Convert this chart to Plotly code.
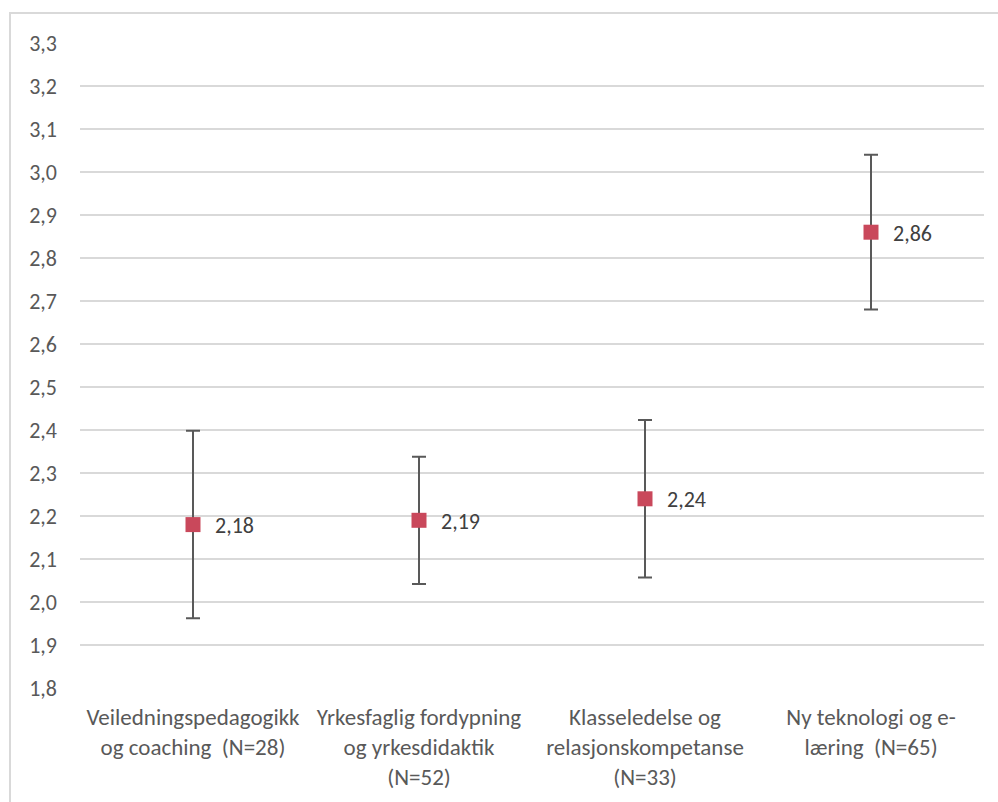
import plotly.graph_objects as go

# Course groups with number of respondents
categories = [
    "Veiledningspedagogikk<br>og coaching  (N=28)",
    "Yrkesfaglig fordypning<br>og yrkesdidaktik<br>(N=52)",
    "Klasseledelse og<br>relasjonskompetanse<br>(N=33)",
    "Ny teknologi og e-<br>læring  (N=65)",
]
# Mean scores and 95 % confidence half-widths
means = [2.18, 2.19, 2.24, 2.86]
ci_half = [0.218, 0.148, 0.183, 0.18]

y_ticks = [round(1.8 + 0.1 * i, 1) for i in range(16)]

W, H = 998, 802
ML, MR, MT, MB = 80, 14, 43, 114
FONT = "Carlito, Calibri, Lato, sans-serif"
FS = 22

fig = go.Figure()
fig.add_trace(go.Scatter(
    x=categories,
    y=means,
    mode="markers",
    marker=dict(symbol="square", size=15, color="#C9485B"),
    error_y=dict(type="data", array=ci_half, visible=True,
                 color="#595959", thickness=2, width=7),
    showlegend=False,
))

# Value labels to the right of each marker
for c, v in zip(categories, means):
    fig.add_annotation(
        x=c, y=v, text=f"{v:.2f}".replace(".", ","),
        showarrow=False, xanchor="left", yanchor="middle",
        xshift=20, yshift=-1,
        font=dict(family=FONT, size=FS, color="#404040"),
    )

# Light frame around the whole chart
pw = W - ML - MR
ph = H - MT - MB
fig.add_shape(
    type="rect", xref="paper", yref="paper",
    x0=(10 - ML) / pw, x1=(W + 5 - ML) / pw,
    y0=-(H + 5 - MT - ph) / ph, y1=(H - 13 - MB) / ph,
    line=dict(color="#D9D9D9", width=2), fillcolor="rgba(0,0,0,0)",
    layer="below",
)

fig.update_layout(
    width=W, height=H,
    margin=dict(l=ML, r=MR, t=MT, b=MB, pad=0),
    paper_bgcolor="white", plot_bgcolor="white",
    separators=", ",
    font=dict(family=FONT, size=FS, color="#595959"),
    xaxis=dict(
        type="category", range=[-0.5, 3.5],
        showgrid=False, zeroline=False, showline=False, ticks="",
        ticklabelstandoff=13,
        tickfont=dict(family=FONT, size=23, color="#595959"),
    ),
    yaxis=dict(
        range=[1.8, 3.3], tickvals=y_ticks,
        ticktext=[f"{v:.1f}".replace(".", ",") for v in y_ticks],
        showgrid=True, gridcolor="#D9D9D9", gridwidth=1.5,
        zeroline=False, showline=False, ticks="",
        ticklabelstandoff=22,
        tickfont=dict(family=FONT, size=FS, color="#595959"),
    ),
)

fig.write_html("out.html")
